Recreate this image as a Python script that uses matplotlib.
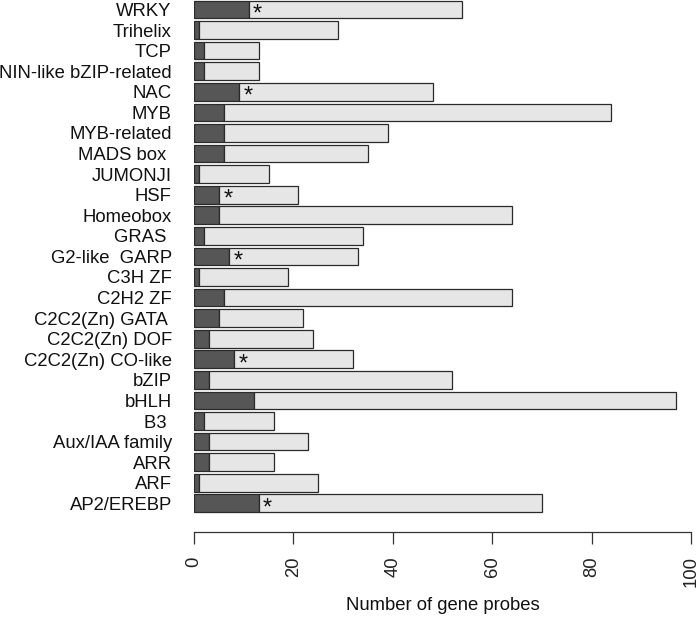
import matplotlib
matplotlib.use("Agg")
import matplotlib.pyplot as plt
import numpy as np

plt.rcParams['font.family'] = ['Liberation Sans', 'DejaVu Sans']

# bottom to top
categories = ["AP2/EREBP", "ARF", "ARR", "Aux/IAA family", "B3 ", "bHLH", "bZIP",
              "C2C2(Zn) CO-like", "C2C2(Zn) DOF", "C2C2(Zn) GATA ", "C2H2 ZF", "C3H ZF",
              "G2-like  GARP", "GRAS ", "Homeobox", "HSF", "JUMONJI", "MADS box ",
              "MYB-related", "MYB", "NAC", "NIN-like bZIP-related", "TCP", "Trihelix", "WRKY"]
dark_values = [13, 1, 3, 3, 2, 12, 3, 8, 3, 5, 6, 1, 7, 2, 5, 5, 1, 6, 6, 6, 9, 2, 2, 1, 11]
total_values = [70, 25, 16, 23, 16, 97, 52, 32, 24, 22, 64, 19, 33, 34, 64, 21, 15, 35,
                39, 84, 48, 13, 13, 29, 54]
starred = ["AP2/EREBP", "C2C2(Zn) CO-like", "G2-like  GARP", "HSF", "NAC", "WRKY"]
x_ticks = [0, 20, 40, 60, 80, 100]

W, H = 700, 621
fig = plt.figure(figsize=(W / 100, H / 100), dpi=100)
ax_bottom = 532
ax = fig.add_axes([194 / W, (H - ax_bottom) / H, (691 - 194) / W, ax_bottom / H])

y = np.arange(len(categories))
light = np.array(total_values) - np.array(dark_values)
ax.barh(y, dark_values, height=0.86, color='#565656', edgecolor='#2a2a2a', linewidth=0.9)
ax.barh(y, light, left=dark_values, height=0.86, color='#e6e6e6', edgecolor='#2a2a2a', linewidth=0.9)

for i, c in enumerate(categories):
    if c in starred:
        ax.annotate("*", xy=(dark_values[i], y[i]), xytext=(9, -5), textcoords='offset pixels',
                    ha='center', va='center', fontsize=17, color='#111111')

pitch = (503.3 - 9.5) / 24
ax.set_ylim(-(ax_bottom - 503.3) / pitch, 24 + 9.5 / pitch)
ax.set_xlim(0, 100)
ax.set_yticks(y)
ax.set_yticklabels(categories, fontsize=13.3, color='#111111')
ax.tick_params(axis='y', length=0, pad=16)
ax.set_xticks(x_ticks)
ax.set_xticklabels([str(t) for t in x_ticks], rotation=90, fontsize=13.3, color='#222222')
ax.tick_params(axis='x', length=8.6, width=0.9, pad=9, color='#333333')
for s in ['top', 'right', 'left']:
    ax.spines[s].set_visible(False)
ax.spines['bottom'].set_linewidth(0.9)
ax.spines['bottom'].set_color('#333333')

fig.text((194 + 691) / 2 / W, (H - 606) / H, "Number of gene probes", ha='center', va='center',
         fontsize=13.3, color='#111111')

fig.savefig("out.png", dpi=100)
